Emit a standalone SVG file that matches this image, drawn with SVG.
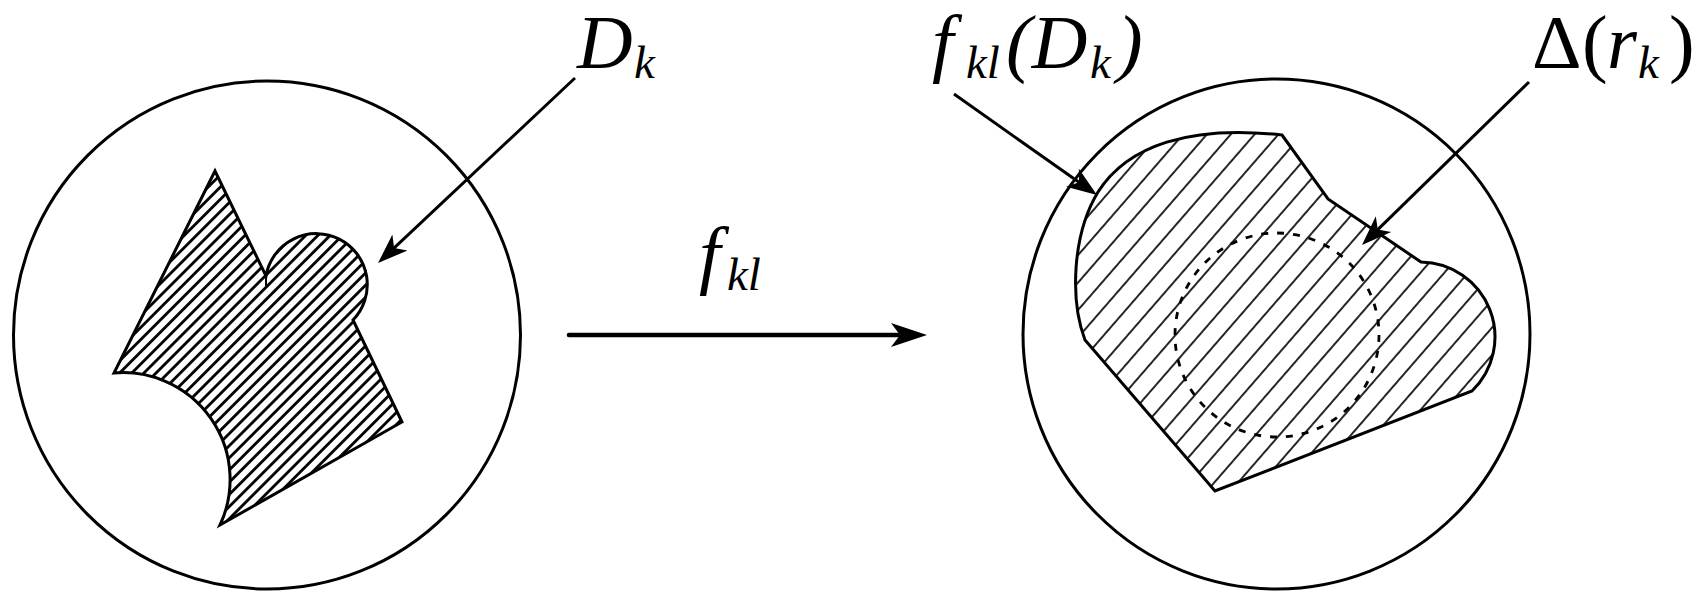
<svg xmlns="http://www.w3.org/2000/svg" width="1706" height="591" viewBox="0 0 1706 591">
<style>
.ol{fill:none;stroke:#000;stroke-width:3}
.con{fill:none;stroke:#000;stroke-width:3}
.t{font-family:"Liberation Serif","Times New Roman",serif;font-style:italic;font-size:77px;fill:#000}
.up{font-style:normal}
.sub{font-size:47px}
</style>
<defs>
<pattern id="hatchL" width="8.6" height="20" patternUnits="userSpaceOnUse" patternTransform="rotate(45)">
<line x1="4.3" y1="0" x2="4.3" y2="20" stroke="#000" stroke-width="2.8"/>
</pattern>
<pattern id="hatchR" width="18" height="20" patternUnits="userSpaceOnUse" patternTransform="rotate(41)">
<line x1="9" y1="0" x2="9" y2="20" stroke="#000" stroke-width="1.7"/>
</pattern>
<marker id="ah" markerUnits="userSpaceOnUse" markerWidth="34" markerHeight="26" refX="18" refY="0" viewBox="0 -13 34 26" orient="auto">
<path d="M30,0 L0,-11 L8,0 L0,11 Z" fill="#000"/>
</marker>
<marker id="ahBig" markerUnits="userSpaceOnUse" markerWidth="40" markerHeight="28" refX="22" refY="0" viewBox="0 -14 40 28" orient="auto">
<path d="M36,0 L0,-12 L9,0 L0,12 Z" fill="#000"/>
</marker>
</defs>

<g id="domain-left">
<ellipse class="ol" cx="267" cy="335" rx="253.5" ry="254"/>
</g>

<g id="region-Dk">
<path d="M215,171 L266,276 A51,51 0 1,1 353,320 L402,422 L220,525 A107,107 0 0,0 114,373 Z" fill="url(#hatchL)" stroke="#000" stroke-width="3" stroke-linejoin="miter"/>
<line x1="266" y1="272" x2="266" y2="286" stroke="#000" stroke-width="2"/>
</g>

<g id="domain-right">
<ellipse class="ol" cx="1276.5" cy="334" rx="253.5" ry="255"/>
</g>

<g id="region-fkl-Dk">
<path d="M1282,135 L1328,199 L1421,262 A75,75 0 0,1 1472,391 L1215,491 L1085,340 C1070,300 1072,235 1098,192 C1128,145 1190,125 1282,135 Z" fill="url(#hatchR)" stroke="#000" stroke-width="3"/>
</g>

<g id="disk-Delta-rk">
<circle cx="1277" cy="335" r="102" fill="none" stroke="#000" stroke-width="2.8" stroke-dasharray="7 9"/>
</g>

<g id="connectors">
<line class="con" x1="575" y1="78" x2="386.8" y2="254.8" marker-end="url(#ah)"/>
<line class="con" x1="954" y1="94" x2="1087.2" y2="188.1" marker-end="url(#ah)"/>
<line class="con" x1="1529" y1="82" x2="1370.6" y2="236.6" marker-end="url(#ah)"/>
<line x1="569" y1="335" x2="913" y2="335" stroke="#000" stroke-width="4.6" stroke-linecap="round" marker-end="url(#ahBig)"/>
</g>

<g id="labels">
<text class="t" x="577" y="68">D<tspan class="sub" x="634" dy="10">k</tspan></text>
<text class="t" x="699" y="280">f<tspan class="sub" x="727" dy="10">kl</tspan></text>
<text class="t" x="932" y="68">f<tspan class="sub" x="966" dy="10">kl</tspan><tspan x="1006" dy="-10">(D</tspan><tspan class="sub" x="1090" dy="10">k</tspan><tspan x="1117" dy="-10">)</tspan></text>
<text class="t" x="1532" y="68"><tspan class="up">Δ</tspan><tspan class="up" x="1582">(</tspan><tspan x="1607">r</tspan><tspan class="sub" x="1638" dy="10">k</tspan><tspan class="up" x="1669" dy="-10">)</tspan></text>
</g>
</svg>
